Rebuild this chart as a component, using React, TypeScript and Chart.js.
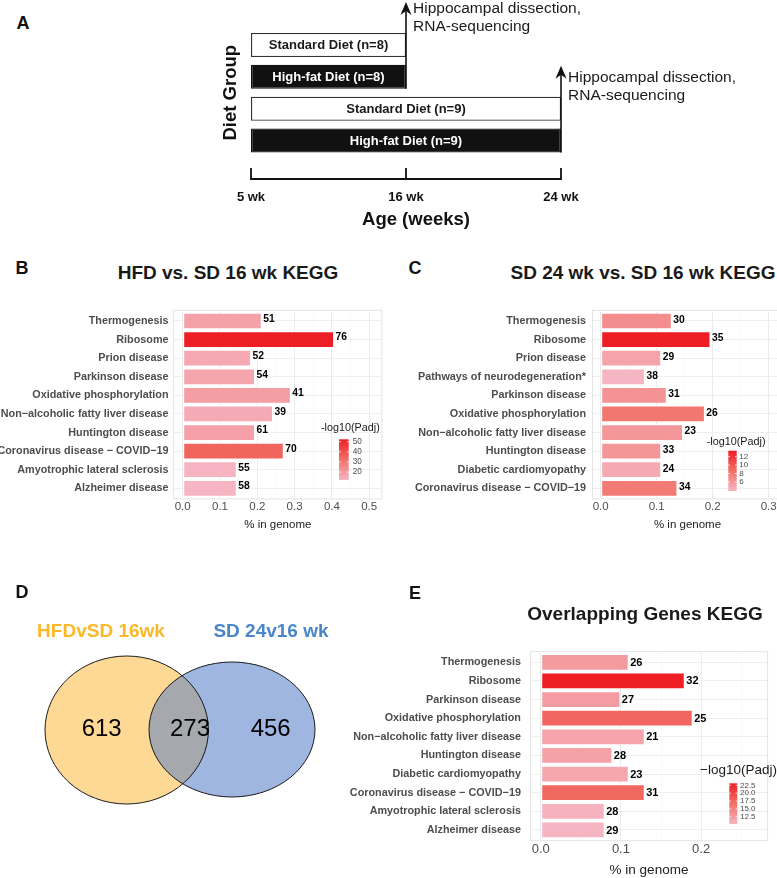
import { useEffect, useRef } from 'react';
import { Chart, registerables } from 'chart.js';

Chart.register(...registerables);

const FONT = "'Liberation Sans', Arial, Helvetica, sans-serif";
Chart.defaults.font.family = FONT;

// ---------------- Panel A : study design ----------------
const WEEKS = [5, 16, 24];
const WEEK_LABELS = ['5 wk', '16 wk', '24 wk'];
const DIET_GROUPS = ['Standard Diet (n=8)', 'High-fat Diet (n=8)', 'Standard Diet (n=9)', 'High-fat Diet (n=9)'];
const GROUP_START_WEEK = [5, 5, 5, 5];
const GROUP_END_WEEK = [16, 16, 24, 24];
const GROUP_IS_HFD = [false, true, false, true];
const ENDPOINT_TEXT = ['Hippocampal dissection,', 'RNA-sequencing'];

// ---------------- Panel B ----------------
const B_PATHWAYS = ['Thermogenesis', 'Ribosome', 'Prion disease', 'Parkinson disease', 'Oxidative phosphorylation', 'Non\u2212alcoholic fatty liver disease', 'Huntington disease', 'Coronavirus disease \u2212 COVID\u221219', 'Amyotrophic lateral sclerosis', 'Alzheimer disease'];
const B_PCT = [0.212, 0.406, 0.183, 0.194, 0.290, 0.242, 0.194, 0.271, 0.145, 0.145];
const B_COUNTS = [51, 76, 52, 54, 41, 39, 61, 70, 55, 58];
const B_PADJ = [18.1, 52.4, 15.9, 17.0, 19.0, 15.1, 18.2, 35.1, 12.4, 12.2];
const B_TICKS = [0, 0.1, 0.2, 0.3, 0.4, 0.5];
const B_LEGEND_TICKS = [20, 30, 40, 50];

// ---------------- Panel C ----------------
const C_PATHWAYS = ['Thermogenesis', 'Ribosome', 'Prion disease', 'Pathways of neurodegeneration*', 'Parkinson disease', 'Oxidative phosphorylation', 'Non\u2212alcoholic fatty liver disease', 'Huntington disease', 'Diabetic cardiomyopathy', 'Coronavirus disease \u2212 COVID\u221219'];
const C_PCT = [0.127, 0.196, 0.108, 0.079, 0.118, 0.186, 0.147, 0.108, 0.108, 0.137];
const C_COUNTS = [30, 35, 29, 38, 31, 26, 23, 33, 24, 34];
const C_PADJ = [6.63, 13.4, 5.06, 3.86, 6.2, 8.15, 5.96, 6.05, 4.68, 7.87];
const C_TICKS = [0, 0.1, 0.2, 0.3];
const C_LEGEND_TICKS = [6, 8, 10, 12];

// ---------------- Panel D : Venn ----------------
const VENN_SETS = ['HFDvSD 16wk', 'SD 24v16 wk'];
const VENN_COUNTS = [613, 273, 456]; // left only, overlap, right only

// ---------------- Panel E ----------------
const E_PATHWAYS = ['Thermogenesis', 'Ribosome', 'Parkinson disease', 'Oxidative phosphorylation', 'Non\u2212alcoholic fatty liver disease', 'Huntington disease', 'Diabetic cardiomyopathy', 'Coronavirus disease \u2212 COVID\u221219', 'Amyotrophic lateral sclerosis', 'Alzheimer disease'];
const E_PCT = [0.1097, 0.1796, 0.0993, 0.1895, 0.1297, 0.0893, 0.1097, 0.1297, 0.0798, 0.0798];
const E_COUNTS = [26, 32, 27, 25, 21, 28, 23, 31, 28, 29];
const E_PADJ = [12.64, 23.14, 12.5, 17.44, 11.81, 12.07, 11.6, 17.31, 10.44, 10.18];
const E_TICKS = [0, 0.1, 0.2];
const E_LEGEND_TICKS = [12.5, 15, 17.5, 20, 22.5];

// ---------------- styling / layout ----------------
// pink -> salmon -> red colour ramp (3 stops)
const RAMP_STOPS = [
  [246, 181, 195],
  [241, 112, 104],
  [238, 31, 36],
];
function rampColor(t: number) {
  const tt = Math.max(0, Math.min(1, t));
  const seg = tt <= 0.5 ? 0 : 1;
  const f = seg === 0 ? tt / 0.5 : (tt - 0.5) / 0.5;
  const a = RAMP_STOPS[seg];
  const b = RAMP_STOPS[seg + 1];
  const c = a.map((v, i) => Math.round(v + (b[i] - v) * f));
  return `rgb(${c[0]},${c[1]},${c[2]})`;
}

type Box = { left: number; top: number; width: number; height: number };

const A_BOX: Box = { left: 200, top: 0, width: 577, height: 240 };
const VENN_BOX: Box = { left: 0, top: 560, width: 390, height: 280 };
const VENN_LAYOUT = {
  left: { cx: 126.7, cy: 170, rx: 81.7, ry: 74 },
  right: { cx: 232, cy: 169.5, rx: 83, ry: 67.5 },
  labelY: 72,
  labelX: [101, 271],
  countY: 169,
  countX: [101.7, 190, 270.7],
  fills: ['#FDD995', '#9FB6E0', '#A5A8AD'],
  labelColors: ['#FBB829', '#4A86C8'],
};

type BarSpec = {
  labels: string[]; pct: number[]; counts: number[]; padj: number[];
  ticks: number[]; xMin: number; xMax: number;
  legendTicks: number[]; legendDecimals: number; legendTitle: string;
  box: Box;
  area: { left: number; right: number; top: number; bottom: number };
  tickFont: number; tickPad: number; titleFont: number; titlePadBottom: number; yPad: number;
  valueFont: number; valueDy: number;
  legend: { titleX: number; titleY: number; titleFont: number; barX: number; barY: number; barW: number; barH: number; labelX: number; labelFont: number };
};

const B_SPEC: BarSpec = {
  labels: B_PATHWAYS, pct: B_PCT, counts: B_COUNTS, padj: B_PADJ,
  ticks: B_TICKS, xMin: -0.0255, xMax: 0.5355,
  legendTicks: B_LEGEND_TICKS, legendDecimals: 0, legendTitle: '-log10(Padj)',
  box: { left: 0, top: 290, width: 390, height: 245 },
  area: { left: 173.2, right: 382.4, top: 311.7, bottom: 497.6 },
  tickFont: 11.5, tickPad: 2.2, titleFont: 11.5, titlePadBottom: 3.1, yPad: 4.7,
  valueFont: 10.3, valueDy: -2,
  legend: { titleX: 321, titleY: 428.3, titleFont: 10.8, barX: 339, barY: 439.3, barW: 9.7, barH: 40.7, labelX: 352.7, labelFont: 8.2 },
};

const C_SPEC: BarSpec = {
  labels: C_PATHWAYS, pct: C_PCT, counts: C_COUNTS, padj: C_PADJ,
  ticks: C_TICKS, xMin: -0.0155, xMax: 0.3255,
  legendTicks: C_LEGEND_TICKS, legendDecimals: 0, legendTitle: '-log10(Padj)',
  box: { left: 390, top: 290, width: 400, height: 245 },
  area: { left: 592, right: 783, top: 311.7, bottom: 497.6 },
  tickFont: 11.5, tickPad: 2.2, titleFont: 11.5, titlePadBottom: 3.1, yPad: 6,
  valueFont: 10.3, valueDy: -1,
  legend: { titleX: 706.7, titleY: 441.7, titleFont: 10.8, barX: 728.3, barY: 450.7, barW: 8.4, barH: 40.3, labelX: 739.3, labelFont: 8 },
};

const E_SPEC: BarSpec = {
  labels: E_PATHWAYS, pct: E_PCT, counts: E_COUNTS, padj: E_PADJ,
  ticks: E_TICKS, xMin: -0.0135, xMax: 0.2835,
  legendTicks: E_LEGEND_TICKS, legendDecimals: 1, legendTitle: '\u2212log10(Padj)',
  box: { left: 340, top: 630, width: 437, height: 248 },
  area: { left: 529.9, right: 768.1, top: 653, bottom: 839.3 },
  tickFont: 13, tickPad: 2.2, titleFont: 13.5, titlePadBottom: 0, yPad: 9,
  valueFont: 11, valueDy: 0.5,
  legend: { titleX: 700, titleY: 770, titleFont: 13.5, barX: 729.3, barY: 783.3, barW: 8, barH: 40.7, labelX: 740, labelFont: 8 },
};

function buildBarChart(canvas: HTMLCanvasElement, spec: BarSpec) {
  const vmin = Math.min(...spec.padj);
  const vmax = Math.max(...spec.padj);
  const colors = spec.padj.map((v) => rampColor((v - vmin) / (vmax - vmin)));
  const step = spec.ticks[1] - spec.ticks[0];
  const minor: number[] = [];
  for (let i = -1; i < spec.ticks.length; i++) {
    const v = spec.ticks[0] + (i + 0.5) * step;
    if (v > spec.xMin && v < spec.xMax) minor.push(v);
  }
  const allTicks = [...spec.ticks, ...minor].sort((a, b) => a - b);
  const isMajor = (v: number) => spec.ticks.some((t) => Math.abs(t - v) < 1e-9);
  const ox = spec.box.left;
  const oy = spec.box.top;
  const a = spec.area;

  const plugin = {
    id: 'ggPanel',
    beforeDatasetsDraw(chart: any) {
      const { ctx, chartArea } = chart;
      const n = chart.data.labels.length;
      const band = (chartArea.bottom - chartArea.top) / n;
      ctx.save();
      ctx.strokeStyle = '#E4E4E4';
      ctx.lineWidth = 1;
      ctx.strokeRect(chartArea.left + 0.5, chartArea.top - 0.1 * band + 0.5, chartArea.right - chartArea.left - 1, chartArea.bottom - chartArea.top + 0.2 * band - 1);
      ctx.restore();
    },
    afterDatasetsDraw(chart: any) {
      const { ctx } = chart;
      const meta = chart.getDatasetMeta(0);
      ctx.save();
      ctx.font = `bold ${spec.valueFont}px ${FONT}`;
      ctx.fillStyle = '#000';
      ctx.textAlign = 'left';
      ctx.textBaseline = 'middle';
      meta.data.forEach((el: any, i: number) => {
        ctx.fillText(String(spec.counts[i]), el.x + 1.5, el.y + spec.valueDy);
      });
      ctx.restore();
    },
    afterDraw(chart: any) {
      const { ctx } = chart;
      const L = spec.legend;
      ctx.save();
      ctx.font = `${L.titleFont}px ${FONT}`;
      ctx.fillStyle = '#1A1A1A';
      ctx.textAlign = 'left';
      ctx.textBaseline = 'middle';
      ctx.fillText(spec.legendTitle, L.titleX - ox, L.titleY - oy);
      const bx = L.barX - ox;
      const by = L.barY - oy;
      const grad = ctx.createLinearGradient(0, by, 0, by + L.barH);
      for (let k = 0; k <= 10; k++) grad.addColorStop(k / 10, rampColor(1 - k / 10));
      ctx.fillStyle = grad;
      ctx.fillRect(bx, by, L.barW, L.barH);
      ctx.font = `${L.labelFont}px ${FONT}`;
      ctx.fillStyle = '#4D4D4D';
      spec.legendTicks.forEach((v) => {
        const yy = by + L.barH * (1 - (v - vmin) / (vmax - vmin));
        ctx.strokeStyle = '#fff';
        ctx.lineWidth = 0.8;
        ctx.beginPath();
        ctx.moveTo(bx, yy); ctx.lineTo(bx + L.barW * 0.2, yy);
        ctx.moveTo(bx + L.barW * 0.8, yy); ctx.lineTo(bx + L.barW, yy);
        ctx.stroke();
        ctx.fillText(v.toFixed(spec.legendDecimals), L.labelX - ox, yy);
      });
      ctx.restore();
    },
  };

  return new Chart(canvas, {
    type: 'bar',
    data: {
      labels: spec.labels,
      datasets: [{
        data: spec.pct,
        backgroundColor: colors,
        borderColor: 'rgba(255,255,255,0.75)',
        borderWidth: 1,
        borderSkipped: false,
        barPercentage: 0.9,
        categoryPercentage: 1,
      }],
    },
    options: {
      indexAxis: 'y',
      responsive: false,
      animation: false,
      layout: { padding: { top: a.top - oy, right: ox + spec.box.width - a.right, left: 0, bottom: 0 } },
      plugins: { legend: { display: false }, tooltip: { enabled: false } },
      scales: {
        x: {
          type: 'linear',
          min: spec.xMin,
          max: spec.xMax,
          afterBuildTicks: (s: any) => { s.ticks = allTicks.map((v) => ({ value: v })); },
          afterFit: (s: any) => { s.height = oy + spec.box.height - a.bottom; },
          grid: {
            drawTicks: false,
            color: (c: any) => (c.tick && isMajor(c.tick.value) ? '#EBEBEB' : '#F6F6F6'),
            lineWidth: (c: any) => (c.tick && isMajor(c.tick.value) ? 1 : 0.7),
          },
          border: { display: false },
          ticks: {
            autoSkip: false,
            maxRotation: 0,
            padding: spec.tickPad,
            font: { size: spec.tickFont },
            color: '#4D4D4D',
            callback: (v: any) => (isMajor(Number(v)) ? Number(v).toFixed(1) : ''),
          },
          title: { display: true, text: '% in genome', color: '#222', font: { size: spec.titleFont }, padding: { top: 0, bottom: spec.titlePadBottom } },
        },
        y: {
          type: 'category',
          afterFit: (s: any) => { s.width = a.left - ox; },
          grid: { drawTicks: false, offset: false, color: '#EFEFEF' },
          border: { display: false },
          ticks: { autoSkip: false, padding: spec.yPad, font: { size: 10.8, weight: 'bold' }, color: '#4D4D4D' },
        },
      },
    } as any,
    plugins: [plugin],
  });
}

function buildTimeline(canvas: HTMLCanvasElement) {
  const idx = (w: number) => WEEKS.indexOf(w);
  const areaTop = 29.1;
  const areaBottom = 156.4;
  const plugin = {
    id: 'timelineMarks',
    afterDatasetsDraw(chart: any) {
      const { ctx } = chart;
      const meta = chart.getDatasetMeta(0);
      const xs = chart.scales.x;
      ctx.save();
      ctx.textAlign = 'center';
      ctx.textBaseline = 'middle';
      ctx.font = `bold 13px ${FONT}`;
      meta.data.forEach((el: any, i: number) => {
        ctx.fillStyle = GROUP_IS_HFD[i] ? '#fff' : '#1A1A1A';
        ctx.fillText(DIET_GROUPS[i], (el.x + el.base) / 2, el.y + 0.5);
      });
      // sampling arrows at the end of each cohort
      const ends = Array.from(new Set(GROUP_END_WEEK));
      const textDy = [6.5, 11.8];
      ends.forEach((w, k) => {
        const rows = GROUP_END_WEEK.map((e, i) => (e === w ? i : -1)).filter((i) => i >= 0);
        const x = xs.getPixelForValue(idx(w));
        const top = Math.min(...rows.map((i) => meta.data[i].y - meta.data[i].height / 2));
        const bottom = Math.max(...rows.map((i) => meta.data[i].y + meta.data[i].height / 2));
        const tip = top - 31;
        ctx.strokeStyle = '#111';
        ctx.fillStyle = '#111';
        ctx.lineWidth = 1.6;
        ctx.beginPath();
        ctx.moveTo(x, bottom);
        ctx.lineTo(x, tip + 8);
        ctx.stroke();
        ctx.beginPath();
        ctx.moveTo(x, tip);
        ctx.lineTo(x - 5.5, tip + 13);
        ctx.lineTo(x, tip + 9);
        ctx.lineTo(x + 5.5, tip + 13);
        ctx.closePath();
        ctx.fill();
        ctx.font = `15.5px ${FONT}`;
        ctx.textAlign = 'left';
        ctx.fillStyle = '#1A1A1A';
        ENDPOINT_TEXT.forEach((t, j) => ctx.fillText(t, x + 7, tip + textDy[k] + j * 18.4));
      });
      // time axis bracket
      const yb = chart.chartArea.bottom + 22.6;
      ctx.strokeStyle = '#111';
      ctx.lineWidth = 1.8;
      ctx.beginPath();
      ctx.moveTo(xs.getPixelForValue(0), yb);
      ctx.lineTo(xs.getPixelForValue(WEEKS.length - 1), yb);
      WEEKS.forEach((_, i) => {
        const px = xs.getPixelForValue(i);
        ctx.moveTo(px, yb + 0.9);
        ctx.lineTo(px, yb - 11);
      });
      ctx.stroke();
      ctx.restore();
    },
  };
  return new Chart(canvas, {
    type: 'bar',
    data: {
      labels: DIET_GROUPS,
      datasets: [{
        data: DIET_GROUPS.map((_, i) => [idx(GROUP_START_WEEK[i]), idx(GROUP_END_WEEK[i])]),
        backgroundColor: GROUP_IS_HFD.map((h) => (h ? '#111' : '#fff')),
        borderColor: GROUP_IS_HFD.map((h) => (h ? '#111' : '#333')),
        borderWidth: 1.3,
        borderSkipped: false,
        barPercentage: 0.755,
        categoryPercentage: 1,
      }],
    },
    options: {
      indexAxis: 'y',
      responsive: false,
      animation: false,
      layout: { padding: { top: areaTop, right: 196, left: 0, bottom: 0 } },
      plugins: { legend: { display: false }, tooltip: { enabled: false } },
      scales: {
        x: {
          type: 'linear',
          min: 0,
          max: 2.129,
          afterBuildTicks: (s: any) => { s.ticks = WEEKS.map((_, i) => ({ value: i })); },
          afterFit: (s: any) => { s.height = A_BOX.height - areaBottom; },
          grid: { display: false, drawTicks: false },
          border: { display: false },
          ticks: {
            autoSkip: false, maxRotation: 0, padding: 32.8,
            font: { size: 13, weight: 'bold' }, color: '#111',
            callback: (_v: any, i: number) => WEEK_LABELS[i] ?? '',
          },
          title: { display: true, text: 'Age (weeks)', font: { size: 18.5, weight: 'bold' }, color: '#111', padding: { top: 0, bottom: 8.9 } },
        },
        y: {
          type: 'category',
          afterFit: (s: any) => { s.width = 51; },
          grid: { display: false, drawTicks: false },
          border: { display: false },
          ticks: { display: false },
          title: { display: true, text: 'Diet Group', font: { size: 18.5, weight: 'bold' }, color: '#111', padding: { top: 19.9, bottom: 0 } },
        },
      },
    } as any,
    plugins: [plugin],
  });
}

function buildVenn(canvas: HTMLCanvasElement) {
  const V = VENN_LAYOUT;
  const plugin = {
    id: 'venn',
    afterDraw(chart: any) {
      const { ctx } = chart;
      const xs = chart.scales.x;
      const ys = chart.scales.y;
      const shape = (e: { cx: number; cy: number; rx: number; ry: number }) => {
        const cx = xs.getPixelForValue(e.cx);
        const cy = ys.getPixelForValue(e.cy);
        const rx = Math.abs(xs.getPixelForValue(e.cx + e.rx) - cx);
        const ry = Math.abs(ys.getPixelForValue(e.cy + e.ry) - cy);
        ctx.beginPath();
        ctx.ellipse(cx, cy, rx, ry, 0, 0, Math.PI * 2);
      };
      ctx.save();
      shape(V.left); ctx.fillStyle = V.fills[0]; ctx.fill();
      shape(V.right); ctx.fillStyle = V.fills[1]; ctx.fill();
      ctx.save();
      shape(V.left); ctx.clip();
      shape(V.right); ctx.fillStyle = V.fills[2]; ctx.fill();
      ctx.restore();
      ctx.strokeStyle = '#1A1A1A';
      ctx.lineWidth = 1;
      shape(V.left); ctx.stroke();
      shape(V.right); ctx.stroke();
      ctx.textAlign = 'center';
      ctx.textBaseline = 'middle';
      ctx.fillStyle = '#000';
      ctx.font = `24px ${FONT}`;
      VENN_COUNTS.forEach((c, i) => ctx.fillText(String(c), xs.getPixelForValue(V.countX[i]), ys.getPixelForValue(V.countY)));
      ctx.font = `bold 19px ${FONT}`;
      VENN_SETS.forEach((s, i) => {
        ctx.fillStyle = V.labelColors[i];
        ctx.fillText(s, xs.getPixelForValue(V.labelX[i]), ys.getPixelForValue(V.labelY));
      });
      ctx.restore();
    },
  };
  return new Chart(canvas, {
    type: 'scatter',
    data: { datasets: [{ data: [] }] },
    options: {
      responsive: false,
      animation: false,
      layout: { padding: 0 },
      plugins: { legend: { display: false }, tooltip: { enabled: false } },
      scales: {
        x: { type: 'linear', min: 0, max: VENN_BOX.width, display: false },
        y: { type: 'linear', min: 0, max: VENN_BOX.height, reverse: true, display: false },
      },
    } as any,
    plugins: [plugin],
  });
}

function ChartCanvas({ box, build }: { box: Box; build: (c: HTMLCanvasElement) => Chart }) {
  const ref = useRef<HTMLCanvasElement>(null);
  useEffect(() => {
    const chart = build(ref.current as HTMLCanvasElement);
    return () => chart.destroy();
  }, []);
  return (
    <canvas
      ref={ref}
      width={box.width}
      height={box.height}
      style={{ position: 'absolute', left: box.left, top: box.top, width: box.width, height: box.height }}
    />
  );
}

function Label({ x, y, text, size, color = '#111', weight = 'bold' }: { x: number; y: number; text: string; size: number; color?: string; weight?: string }) {
  return (
    <div
      style={{
        position: 'absolute', left: x, top: y, transform: 'translate(-50%, -50%)',
        fontSize: size, fontWeight: weight as any, color, lineHeight: 1, whiteSpace: 'nowrap', fontFamily: FONT,
      }}
    >
      {text}
    </div>
  );
}

export default function App() {
  return (
    <div style={{ position: 'fixed', left: 0, top: 0, width: 777, height: 878, overflow: 'hidden', background: '#fff', fontFamily: FONT }}>
      <ChartCanvas box={A_BOX} build={buildTimeline} />
      <ChartCanvas box={B_SPEC.box} build={(c) => buildBarChart(c, B_SPEC)} />
      <ChartCanvas box={C_SPEC.box} build={(c) => buildBarChart(c, C_SPEC)} />
      <ChartCanvas box={VENN_BOX} build={buildVenn} />
      <ChartCanvas box={E_SPEC.box} build={(c) => buildBarChart(c, E_SPEC)} />
      <Label x={23} y={23} text="A" size={18} />
      <Label x={22} y={268} text="B" size={18} />
      <Label x={415} y={268} text="C" size={18} />
      <Label x={22} y={592} text="D" size={18} />
      <Label x={415} y={593} text="E" size={18} />
      <Label x={228} y={271.5} text="HFD vs. SD 16 wk KEGG" size={19} color="#1A1A1A" />
      <Label x={643} y={271.5} text="SD 24 wk vs. SD 16 wk KEGG" size={19} color="#1A1A1A" />
      <Label x={645} y={612.5} text="Overlapping Genes KEGG" size={19} color="#1A1A1A" />
    </div>
  );
}
